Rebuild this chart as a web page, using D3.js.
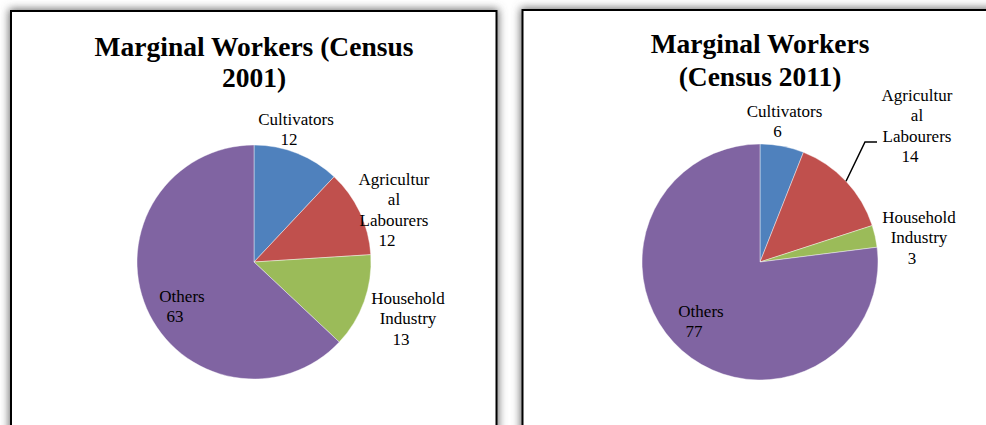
<!DOCTYPE html>
<html><head><meta charset="utf-8">
<script src="https://cdn.jsdelivr.net/npm/d3@7"></script>
<style>html,body{margin:0;padding:0;background:#fff;overflow:hidden}</style>
</head><body><svg id="chart" width="986" height="425"></svg>
<script>
// ---- data ----
const categories = ["Cultivators", "Agricultural Labourers", "Household Industry", "Others"];
const labelLines = [["Cultivators"], ["Agricultur", "al", "Labourers"], ["Household", "Industry"], ["Others"]];
const values2001 = [12, 12, 13, 63];
const values2011 = [6, 14, 3, 77];
const title2001 = ["Marginal Workers (Census", "2001)"];
const title2011 = ["Marginal Workers", "(Census 2011)"];
const colors = ["#4F81BD", "#C0504D", "#9BBB59", "#8064A2"];

// ---- layout (positions/styles, not data) ----
const panels = [
  { x: 11, y: 11, w: 485.5, h: 500, cx: 254, cy: 262, r: 117,
    values: values2001, title: title2001, titleBase: [56, 87],
    labels: [[42, -137], [140, -77], [154, 42], [-72, 40]], leader: null },
  { x: 522.5, y: 10, w: 500, h: 500, cx: 760, cy: 262, r: 118,
    values: values2011, title: title2011, titleBase: [53, 86],
    labels: [[24.5, -145], [157, -161], [159, -39], [-59, 55]],
    leader: { index: 1, pts: [[105, -120], [117, -120]] } }
];

const svg = d3.select("#chart");
const defs = svg.append("defs");
const f = defs.append("filter").attr("id", "shadow")
  .attr("x", "-10%").attr("y", "-10%").attr("width", "120%").attr("height", "120%");
f.append("feGaussianBlur").attr("stdDeviation", 4.5);

// shadows first
panels.forEach(p => {
  svg.append("rect").attr("x", p.x - 2).attr("y", p.y - 2)
    .attr("width", p.w + 4).attr("height", p.h + 4)
    .attr("fill", "#6a6a6a").attr("filter", "url(#shadow)");
});

const pie = d3.pie().sort(null).value(d => d);
const lineH = 20.3;

panels.forEach(p => {
  svg.append("rect").attr("x", p.x).attr("y", p.y)
    .attr("width", p.w).attr("height", p.h)
    .attr("fill", "#fff").attr("stroke", "#000").attr("stroke-width", 2);

  // title
  const t = svg.append("text").attr("text-anchor", "middle")
    .style("font-family", "'Liberation Serif','Times New Roman',serif")
    .style("font-weight", "bold").style("font-size", "27.5px").attr("fill", "#000");
  p.title.forEach((line, i) => {
    t.append("tspan").attr("x", p.cx).attr("y", p.titleBase[i]).text(line);
  });

  const arc = d3.arc().innerRadius(0).outerRadius(p.r);
  const g = svg.append("g").attr("transform", `translate(${p.cx},${p.cy})`);
  const arcs = pie(p.values);
  g.selectAll("path.slice").data(arcs).join("path")
    .attr("class", "slice")
    .attr("d", arc)
    .attr("fill", (d, i) => colors[i])
    .attr("stroke", "#ffffff").attr("stroke-opacity", 0.6).attr("stroke-width", 0.7);

  // leader line
  if (p.leader) {
    const a = arcs[p.leader.index];
    const mid = (a.startAngle + a.endAngle) / 2;
    const start = [p.r * Math.sin(mid), -p.r * Math.cos(mid)];
    g.append("path")
      .attr("d", d3.line()([start, ...p.leader.pts]))
      .attr("fill", "none").attr("stroke", "#000").attr("stroke-width", 1.5);
  }

  // labels
  arcs.forEach((a, i) => {
    const [dx, dy] = p.labels[i];
    const txt = g.append("text").attr("text-anchor", "middle")
      .style("font-family", "'Liberation Serif','Times New Roman',serif")
      .style("font-size", "17px").attr("fill", "#000");
    const lines = labelLines[i];
    lines.forEach((ln, k) => {
      txt.append("tspan").attr("x", dx).attr("y", dy + k * lineH).text(ln);
    });
    txt.append("tspan").attr("x", dx - 7).attr("y", dy + lines.length * lineH).text(a.data);
  });
});
</script>
</body></html>
